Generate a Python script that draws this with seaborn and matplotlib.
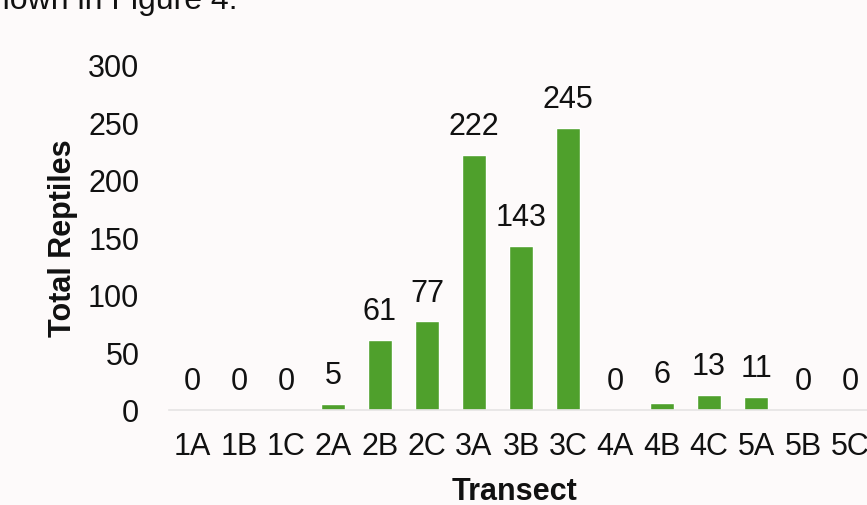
import matplotlib
matplotlib.use("Agg")
import matplotlib.pyplot as plt
import seaborn as sns
import pandas as pd

# Reptile counts per survey transect
transects = ["1A", "1B", "1C", "2A", "2B", "2C", "3A", "3B", "3C",
             "4A", "4B", "4C", "5A", "5B", "5C"]
total_reptiles = [0, 0, 0, 5, 61, 77, 222, 143, 245, 0, 6, 13, 11, 0, 0]

df = pd.DataFrame({"Transect": transects, "Total Reptiles": total_reptiles})

sns.set_theme(style="white")
plt.rcParams["font.family"] = ["Liberation Sans", "DejaVu Sans"]

bg = "#fdfafa"
ink = "#111111"
fs = 22
fig = plt.figure(figsize=(8.67, 5.06), dpi=100, facecolor=bg)
# axes extend slightly past the right edge of the page
ax = fig.add_axes([168.5 / 867, 1 - 411 / 506, 705 / 867, 345 / 506])
ax.set_facecolor(bg)

sns.barplot(data=df, x="Transect", y="Total Reptiles", color="#4fa02c",
            saturation=1, width=0.49, ax=ax)

for c in ax.containers:
    ax.bar_label(c, labels=[str(v) for v in total_reptiles], padding=10,
                 fontsize=fs, color=ink)

ax.set_ylim(0, 300)
ax.set_xlim(-0.5, 14.5)
ax.set_yticks([0, 50, 100, 150, 200, 250, 300])
ax.tick_params(axis="y", labelsize=fs, length=0, pad=21, colors=ink)
ax.tick_params(axis="x", labelsize=fs, length=0, pad=15, colors=ink)
for s in ["top", "right", "left"]:
    ax.spines[s].set_visible(False)
ax.spines["bottom"].set_color("#e6e4e4")
ax.spines["bottom"].set_linewidth(1.2)

ax.set_xlabel("Transect", fontsize=fs, fontweight="bold", color=ink)
ax.set_ylabel("Total Reptiles", fontsize=fs, fontweight="bold", color=ink)
ax.xaxis.set_label_coords((514 - 168.5) / 705, -0.19)
ax.yaxis.set_label_coords(-(168.5 - 63) / 705, 0.5)
ax.xaxis.label.set_va("top")
ax.yaxis.label.set_va("center")

# tail of the preceding sentence in the report
fig.text(237 / 867, 1 - 9 / 506, "shown in Figure 4.", fontsize=23,
         color=ink, va="baseline", ha="right")

fig.savefig("out.png", dpi=100, facecolor=bg)
